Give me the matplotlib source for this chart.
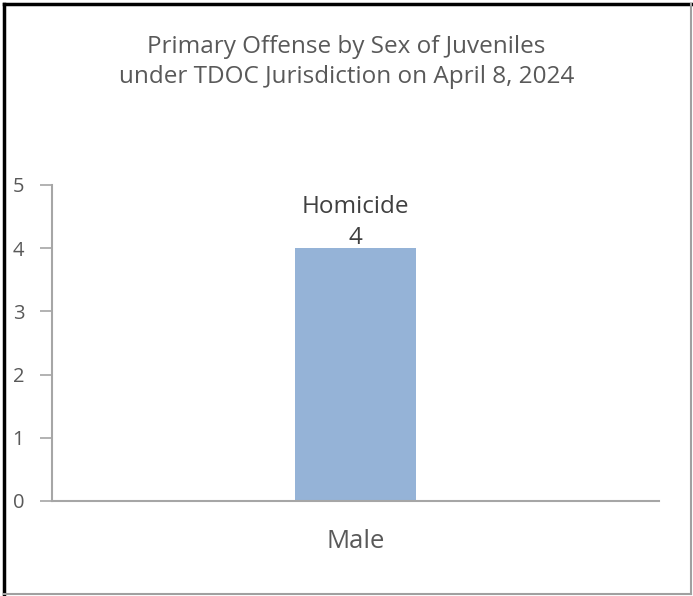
import matplotlib
matplotlib.use("Agg")
import matplotlib.pyplot as plt
from matplotlib.lines import Line2D

categories = ["Male"]
values = [4]
bar_labels = ["Homicide"]
yticks = [0, 1, 2, 3, 4, 5]
title = "Primary Offense by Sex of Juveniles\nunder TDOC Jurisdiction on April 8, 2024"

plt.rcParams['font.family'] = ['Open Sans', 'DejaVu Sans']
txt = '#595959'
axc = '#A6A6A6'

fig = plt.figure(figsize=(6.93, 5.96), dpi=100)
ax = fig.add_axes([0.075, 0.1594, 0.876, 0.5302])

x = list(range(len(categories)))
bars = ax.bar(x, values, width=0.2, color='#95B3D7', zorder=2)
ax.set_xlim(-0.5, len(categories) - 0.5)
ax.set_ylim(0, 5)
ax.set_yticks(yticks)
ax.set_xticks(x)
ax.set_xticklabels(categories, fontsize=18.5, color=txt)
ax.tick_params(axis='x', length=0, pad=20)
ax.tick_params(axis='y', length=9, width=1.2, color=axc, labelsize=14.5, labelcolor=txt, pad=11)
for s in ['top', 'right']:
    ax.spines[s].set_visible(False)
for s in ['left', 'bottom']:
    ax.spines[s].set_color(axc)
    ax.spines[s].set_linewidth(1.5)

for xi, v, lab in zip(x, values, bar_labels):
    ax.annotate(f"{lab}\n{v}", (xi, v), xytext=(0, -1), textcoords='offset points',
                ha='center', va='bottom', fontsize=17.5, color='#404040', linespacing=1.38)

fig.text(0.5, 0.896, title, ha='center', va='center', fontsize=17.5, color=txt, linespacing=1.35)

# border
fig.add_artist(Line2D([0.006, 0.006], [0.003, 0.994], color='black', lw=2.5, transform=fig.transFigure))
fig.add_artist(Line2D([0.006, 0.997], [0.994, 0.994], color='black', lw=2.5, transform=fig.transFigure))
fig.add_artist(Line2D([0.997, 0.997], [0.003, 0.994], color='#A0A0A0', lw=1.5, transform=fig.transFigure))
fig.add_artist(Line2D([0.006, 0.997], [0.003, 0.003], color='#A0A0A0', lw=1.5, transform=fig.transFigure))

fig.savefig("out.png", dpi=100)
